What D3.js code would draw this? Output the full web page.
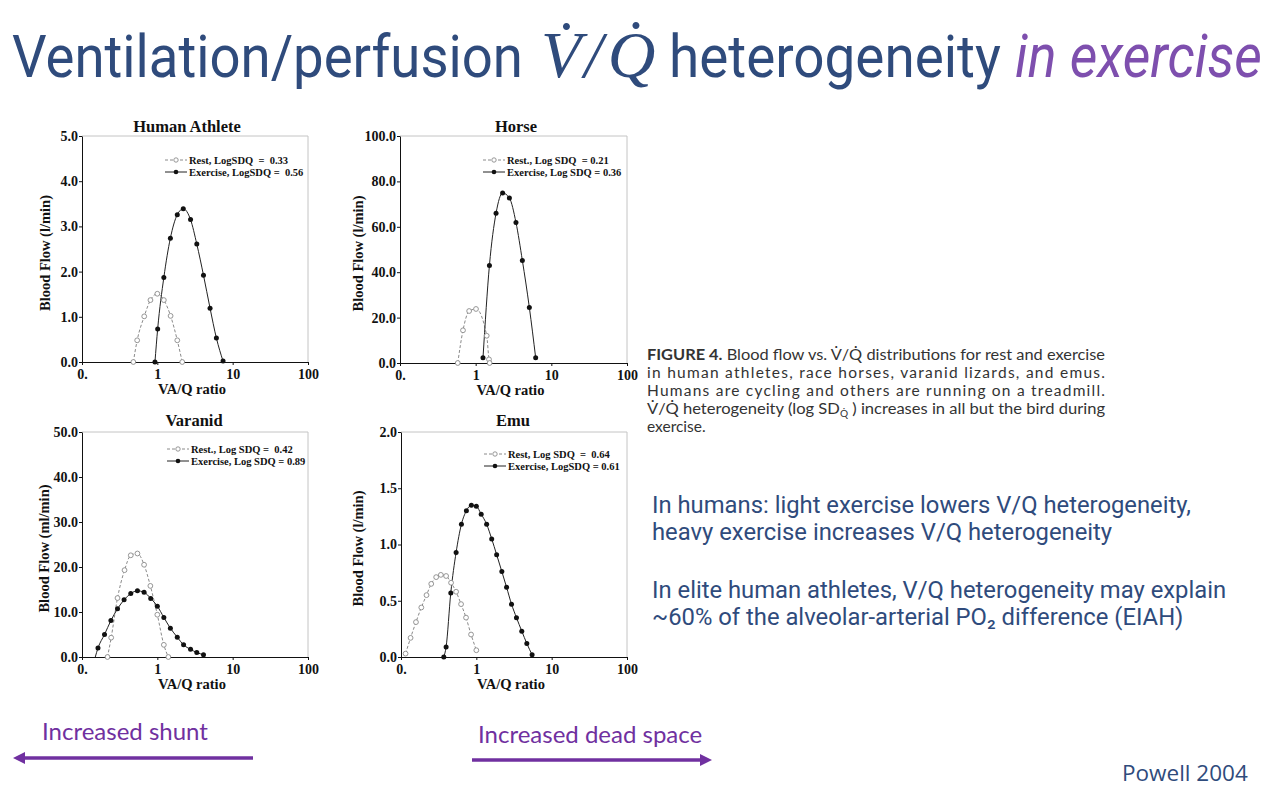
<!DOCTYPE html>
<html><head><meta charset="utf-8">
<script src="https://cdn.jsdelivr.net/npm/d3@7"></script>
<style>
body{margin:0;background:#fff;}
svg{display:block}
.pre{white-space:pre}
</style>
</head><body>
<svg id="c" width="1280" height="800"></svg>
<script>
// ---------- DATA ----------
const xTickValues = [0.1, 1, 10, 100];
const xTickLabels = ["0.", "1", "10", "100"];

// Human Athlete (l/min)
const humanRestX = [0.48, 0.54, 0.67, 0.81, 1.0, 1.22, 1.50, 1.84, 2.14];
const humanRestY = [0, 0.48, 1.01, 1.37, 1.51, 1.37, 1.02, 0.48, 0];
const humanExX = [0.93, 1.01, 1.22, 1.49, 1.84, 2.21, 2.76, 3.34, 4.10, 5.01, 6.08, 7.45];
const humanExY = [0, 0.73, 1.87, 2.74, 3.26, 3.39, 3.15, 2.61, 1.92, 1.19, 0.53, 0.02];
const humanYTicks = [0, 1, 2, 3, 4, 5];
const humanYLabels = ["0.0", "1.0", "2.0", "3.0", "4.0", "5.0"];
const humanLegend = ["Rest, LogSDQ  =  0.33", "Exercise, LogSDQ =  0.56"];

// Horse (l/min)
const horseRestX = [0.58, 0.68, 0.82, 1.01, 1.40, 1.50, 1.53];
const horseRestY = [0, 14.4, 22.9, 23.8, 12.0, 1.6, 0];
const horseExX = [1.25, 1.52, 1.86, 2.27, 2.79, 3.41, 4.14, 5.12, 6.21];
const horseExY = [2.3, 43.0, 66.0, 74.9, 72.7, 61.9, 45.2, 24.5, 2.3];
const horseYTicks = [0, 20, 40, 60, 80, 100];
const horseYLabels = ["0.0", "20.0", "40.0", "60.0", "80.0", "100.0"];
const horseLegend = ["Rest., Log SDQ  = 0.21", "Exercise, Log SDQ = 0.36"];

// Varanid (ml/min)
const varanidRestX = [0.218, 0.244, 0.296, 0.367, 0.444, 0.544, 0.667, 0.808, 1.0, 1.22, 1.40];
const varanidRestY = [0, 4.3, 13.1, 19.3, 22.6, 23.0, 20.5, 15.8, 9.4, 2.7, 0];
const varanidExX = [0.150, 0.163, 0.199, 0.242, 0.296, 0.362, 0.444, 0.544, 0.667, 0.817, 1.0, 1.22, 1.49, 1.84, 2.23, 2.76, 3.34, 4.10];
const varanidExY = [0, 2.0, 5.0, 8.1, 10.7, 12.7, 14.1, 14.7, 14.4, 13.0, 11.3, 8.8, 6.4, 4.4, 2.7, 1.7, 1.0, 0.5];
const varanidYTicks = [0, 10, 20, 30, 40, 50];
const varanidYLabels = ["0.0", "10.0", "20.0", "30.0", "40.0", "50.0"];
const varanidLegend = ["Rest., Log SDQ =  0.42", "Exercise, Log SDQ = 0.89"];

// Emu (l/min)
const emuRestX = [0.115, 0.134, 0.158, 0.186, 0.218, 0.252, 0.293, 0.338, 0.397, 0.462, 0.539, 0.627, 0.730, 0.851, 1.0];
const emuRestY = [0.03, 0.17, 0.31, 0.44, 0.55, 0.65, 0.71, 0.73, 0.72, 0.66, 0.58, 0.47, 0.35, 0.20, 0.06];
const emuExX = [0.370, 0.397, 0.458, 0.539, 0.634, 0.738, 0.859, 1.0, 1.16, 1.37, 1.60, 1.86, 2.18, 2.52, 2.93, 3.41, 4.01, 4.68, 5.50];
const emuExY = [0, 0.09, 0.57, 0.93, 1.18, 1.30, 1.35, 1.34, 1.27, 1.18, 1.05, 0.91, 0.76, 0.62, 0.47, 0.35, 0.23, 0.12, 0.02];
const emuYTicks = [0, 0.5, 1.0, 1.5, 2.0];
const emuYLabels = ["0.0", "0.5", "1.0", "1.5", "2.0"];
const emuLegend = ["Rest, Log SDQ  =  0.64", "Exercise, LogSDQ = 0.61"];

const panelTitles = ["Human Athlete", "Horse", "Varanid", "Emu"];
const yAxisTitles = ["Blood Flow (l/min)", "Blood Flow (l/min)", "Blood Flow (ml/min)", "Blood Flow (l/min)"];
const xAxisTitle = "VA/Q ratio";

// ---------- LAYOUT ----------
const panels = [
  {title: panelTitles[0], yTitle: yAxisTitles[0], rx: humanRestX, ry: humanRestY, ex: humanExX, ey: humanExY,
   yTicks: humanYTicks, yLabels: humanYLabels, legend: humanLegend, exMarkFrom: 0,
   L: 82, R: 308, T: 136, B: 362, tx: 187, ty: 132, ylx: 45, legX: 165, legY: 160},
  {title: panelTitles[1], yTitle: yAxisTitles[1], rx: horseRestX, ry: horseRestY, ex: horseExX, ey: horseExY,
   yTicks: horseYTicks, yLabels: horseYLabels, legend: horseLegend, exMarkFrom: 0,
   L: 400, R: 627, T: 136, B: 363, tx: 516, ty: 132, ylx: 358, legX: 483, legY: 160},
  {title: panelTitles[2], yTitle: yAxisTitles[2], rx: varanidRestX, ry: varanidRestY, ex: varanidExX, ey: varanidExY,
   yTicks: varanidYTicks, yLabels: varanidYLabels, legend: varanidLegend, exMarkFrom: 1,
   L: 82, R: 308, T: 432, B: 657, tx: 194, ty: 426, ylx: 44, legX: 167, legY: 449},
  {title: panelTitles[3], yTitle: yAxisTitles[3], rx: emuRestX, ry: emuRestY, ex: emuExX, ey: emuExY,
   yTicks: emuYTicks, yLabels: emuYLabels, legend: emuLegend, exMarkFrom: 0,
   L: 401, R: 627, T: 432, B: 657, tx: 513, ty: 426, ylx: 358, legX: 484, legY: 454}
];

const svg = d3.select("#c");
const SERIF = "'Liberation Serif', 'Times New Roman', serif";
const REST_C = "#8a8a8a";

function drawPanel(p) {
  const x = d3.scaleLog().domain([0.1, 100]).range([p.L, p.R]);
  const y = d3.scaleLinear().domain([0, p.yTicks[p.yTicks.length - 1]]).range([p.B, p.T]);
  const g = svg.append("g");

  g.append("path").attr("d", `M${p.L},${p.T}H${p.R}V${p.B}`)
    .attr("fill", "none").attr("stroke", "#c4c4c4").attr("stroke-width", 1);

  const yAx = g.append("g").attr("transform", `translate(${p.L},0)`)
    .call(d3.axisLeft(y).tickValues(p.yTicks).tickFormat((d, i) => p.yLabels[i]).tickSize(3).tickSizeOuter(0).tickPadding(1));
  const xAx = g.append("g").attr("transform", `translate(0,${p.B})`)
    .call(d3.axisBottom(x).tickValues(xTickValues).tickFormat((d, i) => xTickLabels[i]).tickSize(3).tickSizeOuter(0).tickPadding(4));
  [yAx, xAx].forEach(a => {
    a.select(".domain").attr("stroke", "#111");
    a.selectAll(".tick line").attr("stroke", "#111");
    a.selectAll("text").attr("font-family", SERIF).attr("font-weight", "bold")
      .attr("font-size", 14).attr("fill", "#111");
  });

  g.append("text").attr("x", p.tx).attr("y", p.ty).attr("text-anchor", "middle")
    .attr("font-family", SERIF).attr("font-weight", "bold").attr("font-size", 16.5).attr("fill", "#111")
    .text(p.title);
  g.append("text").attr("transform", `translate(${p.ylx},${(p.T + p.B) / 2 + 4}) rotate(-90)`)
    .attr("text-anchor", "middle").attr("dominant-baseline", "central")
    .attr("font-family", SERIF).attr("font-weight", "bold").attr("font-size", 14.5).attr("fill", "#111")
    .text(p.yTitle);
  g.append("text").attr("x", (p.L + p.R) / 2 - 3).attr("y", p.B + 32).attr("text-anchor", "middle")
    .attr("font-family", SERIF).attr("font-weight", "bold").attr("font-size", 14.5).attr("fill", "#111")
    .text(xAxisTitle);

  const line = d3.line().x(d => x(d[0])).y(d => y(d[1])).curve(d3.curveMonotoneX);
  const rest = p.rx.map((v, i) => [v, p.ry[i]]);
  const ex = p.ex.map((v, i) => [v, p.ey[i]]);

  g.append("path").datum(rest).attr("d", line).attr("fill", "none")
    .attr("stroke", REST_C).attr("stroke-width", 1).attr("stroke-dasharray", "3,2");
  g.append("path").datum(ex).attr("d", line).attr("fill", "none")
    .attr("stroke", "#222").attr("stroke-width", 1);

  g.selectAll(".rm").data(rest).join("circle").attr("class", "rm")
    .attr("cx", d => x(d[0])).attr("cy", d => y(d[1])).attr("r", 2.4)
    .attr("fill", "#fff").attr("stroke", REST_C).attr("stroke-width", 0.9);
  g.selectAll(".em").data(ex.slice(p.exMarkFrom)).join("circle").attr("class", "em")
    .attr("cx", d => x(d[0])).attr("cy", d => y(d[1])).attr("r", 2.5)
    .attr("fill", "#111");

  const lx0 = p.legX, lx1 = p.legX + 22, lm = (lx0 + lx1) / 2;
  const ly = [p.legY, p.legY + 12];
  g.append("line").attr("x1", lx0).attr("x2", lx1).attr("y1", ly[0]).attr("y2", ly[0])
    .attr("stroke", REST_C).attr("stroke-dasharray", "3,2");
  g.append("circle").attr("cx", lm).attr("cy", ly[0]).attr("r", 2.2).attr("fill", "#fff").attr("stroke", REST_C).attr("stroke-width", 0.9);
  g.append("line").attr("x1", lx0).attr("x2", lx1).attr("y1", ly[1]).attr("y2", ly[1]).attr("stroke", "#222");
  g.append("circle").attr("cx", lm).attr("cy", ly[1]).attr("r", 2.3).attr("fill", "#111");
  p.legend.forEach((t, i) => {
    g.append("text").attr("class", "pre").attr("x", lx1 + 2).attr("y", ly[i] + 3.8)
      .attr("font-family", SERIF).attr("font-weight", "bold").attr("font-size", 10.5).attr("fill", "#111")
      .text(t);
  });
}
panels.forEach(drawPanel);

// ---------- SLIDE TEXT ----------
const BLUE = "#2F4B7C";
const PURPLE_T = "#7E4FAE";
const PURPLE = "#7030A0";

// title pieces, horizontally scaled to the widths seen in the slide
function fitText(str, x, y, width, attrs) {
  const t = svg.append("text").attr("x", 0).attr("y", 0).text(str);
  Object.entries(attrs).forEach(([k, v]) => t.attr(k, v));
  const natural = t.node().getComputedTextLength();
  t.attr("transform", `translate(${x},${y}) scale(${width / natural},1)`);
  return t;
}
fitText("Ventilation/perfusion", 12, 77, 511, {"font-family": "Roboto", "font-size": 60, "fill": BLUE});
const math = svg.append("text").attr("x", 541).attr("y", 77).attr("font-family", SERIF).attr("font-style", "italic")
  .attr("font-size", 66).attr("fill", BLUE);
math.append("tspan").text("V\u0307");
math.append("tspan").attr("dx", 3).text("/");
math.append("tspan").attr("dx", 5).text("Q\u0307");
fitText("heterogeneity", 669, 77, 332, {"font-family": "Roboto", "font-size": 60, "fill": BLUE});
fitText("in exercise", 1015, 77, 247, {"font-family": "Roboto", "font-style": "italic", "font-size": 60, "fill": PURPLE_T});

// figure caption
const CAP = {x: 647, w: 458, y0: 360, dy: 18};
const capG = svg.append("g").attr("font-family", "Lato").attr("font-size", 15.5).attr("fill", "#333");
const c1 = capG.append("text").attr("x", CAP.x).attr("y", CAP.y0).attr("textLength", CAP.w).attr("lengthAdjust", "spacingAndGlyphs");
c1.append("tspan").attr("font-weight", "bold").text("FIGURE 4.");
c1.append("tspan").text(" Blood flow vs. V\u0307/Q\u0307 distributions for rest and exercise");
capG.append("text").attr("x", CAP.x).attr("y", CAP.y0 + CAP.dy).attr("textLength", CAP.w)
  .text("in human athletes, race horses, varanid lizards, and emus.");
capG.append("text").attr("x", CAP.x).attr("y", CAP.y0 + 2 * CAP.dy).attr("textLength", CAP.w)
  .text("Humans are cycling and others are running on a treadmill.");
const c4 = capG.append("text").attr("x", CAP.x).attr("y", CAP.y0 + 3 * CAP.dy).attr("textLength", CAP.w).attr("lengthAdjust", "spacingAndGlyphs");
c4.append("tspan").text("V\u0307/Q\u0307 heterogeneity (log SD");
c4.append("tspan").attr("dy", 3).attr("font-size", 9.5).text("Q\u0307");
c4.append("tspan").attr("dy", -3).text(" ) increases in all but the bird during");
capG.append("text").attr("x", CAP.x).attr("y", CAP.y0 + 4 * CAP.dy).text("exercise.");

// bullets
const bullets = [
  ["In humans: light exercise lowers V/Q heterogeneity,", 513],
  ["heavy exercise increases V/Q heterogeneity", 540],
  ["In elite human athletes, V/Q heterogeneity may explain", 598],
  ["~60% of the alveolar-arterial PO\u2082 difference (EIAH)", 625]
];
bullets.forEach(b => {
  svg.append("text").attr("x", 652).attr("y", b[1]).attr("font-family", "Roboto").attr("font-size", 23.8)
    .attr("fill", BLUE).text(b[0]);
});

// arrows
svg.append("text").attr("x", 42).attr("y", 740).attr("font-family", "Lato").attr("font-size", 24)
  .attr("fill", PURPLE).text("Increased shunt");
svg.append("text").attr("x", 478).attr("y", 743).attr("font-family", "Lato").attr("font-size", 24)
  .attr("fill", PURPLE).text("Increased dead space");
svg.append("line").attr("x1", 253).attr("x2", 22).attr("y1", 758).attr("y2", 758).attr("stroke", PURPLE).attr("stroke-width", 3.5);
svg.append("path").attr("d", "M13,758L25,752L25,764Z").attr("fill", PURPLE);
svg.append("line").attr("x1", 472).attr("x2", 703).attr("y1", 760).attr("y2", 760).attr("stroke", PURPLE).attr("stroke-width", 3.5);
svg.append("path").attr("d", "M712,760L700,754L700,766Z").attr("fill", PURPLE);

svg.append("text").attr("x", 1122).attr("y", 781).attr("font-family", "Open Sans").attr("font-size", 22.5)
  .attr("fill", BLUE).text("Powell 2004");
</script>
</body></html>
